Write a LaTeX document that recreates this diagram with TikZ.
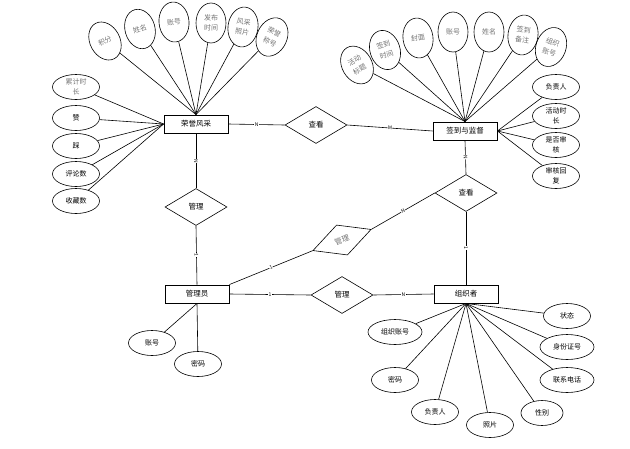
\documentclass[tikz,border=0pt]{standalone}
\usepackage{fontspec}
\setmainfont{Noto Sans CJK SC}
\usetikzlibrary{shapes.geometric}
\begin{document}
\begin{tikzpicture}[x=1pt,y=-1pt,
  ent/.style={draw, line width=0.9pt, minimum width=64pt, minimum height=18pt, inner sep=0pt, font=\fontsize{7.5}{8}\selectfont},
  rel/.style={draw, diamond, line width=0.6pt, minimum width=62pt, minimum height=37pt, inner sep=0pt, font=\fontsize{7.5}{8}\selectfont},
  attr/.style={draw, ellipse, line width=0.6pt, minimum width=47pt, minimum height=25pt, inner sep=0pt, align=center, font=\fontsize{7}{10}\selectfont},
  vattr/.style={draw, ellipse, line width=0.6pt, minimum width=30pt, minimum height=40pt, inner sep=0pt, align=center, text=black!55, font=\fontsize{7}{10.5}\selectfont},
  card/.style={fill=white, inner sep=0.3pt, font=\fontsize{5}{5}\selectfont},
  link/.style={line width=0.6pt}]
\useasboundingbox (0,0) rectangle (630,448);
% entities
\node[ent] (h) at (196,124) {荣誉风采};
\node[ent] (s) at (465,131) {签到与监督};
\node[ent] (m) at (197,294) {管理员};
\node[ent] (o) at (466,294) {组织者};
% relationships
\node[rel] (r1) at (316,125) {查看};
\node[rel] (r2) at (196,207) {管理};
\node[rel] (r3) at (466,193) {查看};
\node[rel] (r4) at (342,295) {管理};
\node[draw, diamond, line width=0.6pt, minimum width=62pt, minimum height=32pt, inner sep=0pt, rotate=20, text=black!55, font=\fontsize{7.5}{8}\selectfont] (r5) at (342,240) {管理};
% attributes of 荣誉风采
\node[vattr, rotate=28] (h1) at (105,41) {积分};
\node[vattr, rotate=15] (h2) at (140,29) {姓名};
\node[vattr, rotate=5] (h3) at (174,22) {账号};
\node[vattr] (h4) at (211,23) {发布\\时间};
\node[vattr, rotate=-8] (h5) at (243,27) {风采\\照片};
\node[vattr, rotate=-25] (h6) at (272,37) {荣誉\\称号};
\node[attr, text=black!55] (h7) at (76,87) {累计时\\长};
\node[attr] (h8) at (76,118) {赞};
\node[attr] (h9) at (76,146) {踩};
\node[attr] (h10) at (76,174) {评论数};
\node[attr] (h11) at (76,201) {收藏数};
\foreach \a in {h1,h2,h3,h4,h5,h6} \draw[link] (\a) -- (h.north);
\foreach \a in {h7,h8,h9,h10,h11} \draw[link] (\a) -- (h.west);
% attributes of 签到与监督
\node[vattr, rotate=30] (s1) at (357,65) {活动\\标题};
\node[vattr, rotate=18] (s2) at (385,50) {签到\\时间};
\node[vattr, rotate=8] (s3) at (418,38) {封面};
\node[vattr] (s4) at (453,32) {账号};
\node[vattr] (s5) at (489,32) {姓名};
\node[vattr, rotate=-8] (s6) at (523,35) {签到\\备注};
\node[vattr, rotate=-20] (s7) at (551,47) {组织\\账号};
\node[attr] (s8) at (556,87) {负责人};
\node[attr] (s9) at (556,116) {活动时\\长};
\node[attr] (s10) at (556,145) {是否审\\核};
\node[attr] (s11) at (556,176) {审核回\\复};
\foreach \a in {s1,s2,s3,s4,s5,s6,s7} \draw[link] (\a) -- (s.north);
\foreach \a in {s8,s9,s10,s11} \draw[link] (\a) -- (s.east);
% attributes of 组织者
\node[attr] (o1) at (567,316) {状态};
\node[attr, minimum width=54pt] (o2) at (567,347) {身份证号};
\node[attr, minimum width=54pt] (o3) at (567,380) {联系电话};
\node[attr, minimum width=42pt] (o4) at (542,413) {性别};
\node[attr] (o5) at (490,425) {照片};
\node[attr] (o6) at (435,412) {负责人};
\node[attr] (o7) at (395,380) {密码};
\node[attr, minimum width=54pt] (o8) at (395,332) {组织账号};
\foreach \a in {o1,o2,o3,o4,o5,o6,o7,o8} \draw[link] (\a) -- (o.south);
% attributes of 管理员
\node[attr] (m1) at (152,343) {账号};
\node[attr] (m2) at (198,364) {密码};
\foreach \a in {m1,m2} \draw[link] (\a) -- (m.south);
% relationship links
\draw[link] (h.east) -- node[card]{N} (r1.west);
\draw[link] (r1.east) -- node[card, sloped]{M} (s.west);
\draw[link] (h.south) -- node[card, sloped]{N} (r2.north);
\draw[link] (r2.south) -- node[card, sloped]{1} (m.north);
\draw[link] (m.east) -- node[card]{1} (r4.west);
\draw[link] (r4.east) -- node[card]{N} (o.west);
\draw[link] (m.north east) -- node[card, sloped]{1} (r5.west);
\draw[link] (r5.east) -- node[card, sloped]{N} (r3.west);
\draw[link] (s.south) -- node[card, sloped]{N} (r3.north);
\draw[link] (r3.south) -- node[card, sloped]{1} (o.north);
\end{tikzpicture}
\end{document}
